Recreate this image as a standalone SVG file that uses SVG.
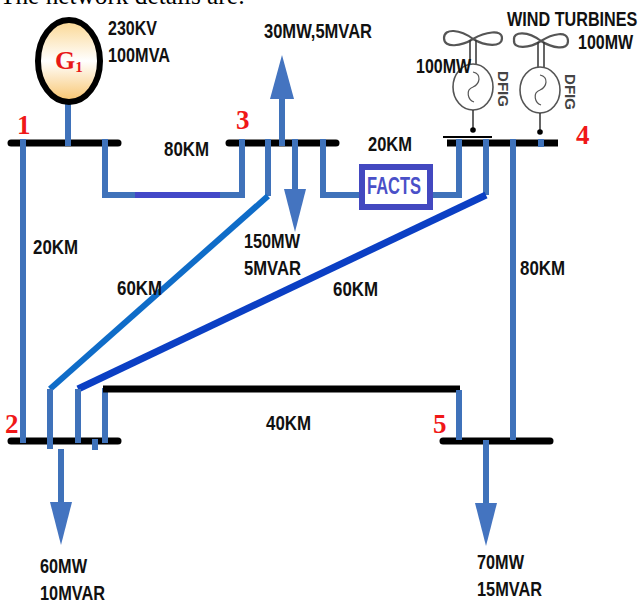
<svg xmlns="http://www.w3.org/2000/svg" width="639" height="603" viewBox="0 0 639 603">
<defs>
<linearGradient id="gen2" x1="0" y1="0" x2="0" y2="1"><stop offset="0" stop-color="#fbd690"/><stop offset="0.5" stop-color="#ffffff"/><stop offset="1" stop-color="#f8c46c"/></linearGradient>
</defs>
<style>
text{font-family:"Liberation Sans",Arial,sans-serif;font-size:20px;font-weight:700;fill:#111}
.r{font-family:"Liberation Serif","Times New Roman",serif;font-size:27px;fill:#f01818}
.b{fill:none;stroke:#3f72ba;stroke-width:6}
.bar{fill:none;stroke:#000;stroke-width:7;stroke-linecap:round}
.arr{fill:#4474c0}
.t{fill:none;stroke:#555;stroke-width:2.2}
.w{fill:none;stroke:#555;stroke-width:1.2}
.l{fill:none;stroke:#333;stroke-width:1.5}
.d{font-size:14px;fill:#444}
</style>
<text x="0" y="4" lengthAdjust="spacingAndGlyphs" style="font-family:'Liberation Serif',serif;font-size:25px;font-weight:400;fill:#000" textLength="245">The network details are:</text>
<g id="bus1"><path class="bar" d="M11 143H118"/><text class="r" x="17" y="134">1</text></g>
<g id="bus2"><path class="bar" d="M11 441H118"/><text class="r" x="5" y="433">2</text></g>
<g id="bus3"><path class="bar" d="M229 143H336"/><text class="r" x="236" y="129">3</text></g>
<g id="bus4"><path d="M447 143H558" fill="none" stroke="#000" stroke-width="7"/><path d="M443 137H492" stroke="#000" stroke-width="2"/><text class="r" x="576" y="144">4</text></g>
<g id="bus5"><path class="bar" d="M443 441H550"/><text class="r" x="433" y="433">5</text></g>
<g id="connectors">
<path class="b" d="M23 139V443"/>
<path class="b" d="M68 100V146"/>
<path class="b" d="M105 139V195H242V139"/>
<path d="M135 195H220" fill="none" stroke="#4348c8" stroke-width="6"/>
<path class="b" d="M268 139V196"/>
<path d="M268 196L50 389" fill="none" stroke="#0f6cc8" stroke-width="6"/>
<path class="b" d="M50 389V449"/>
<path class="b" d="M282 146V90"/>
<path class="b" d="M295 139V195"/>
<path class="b" d="M323 139V195H362"/>
<path class="b" d="M432 195H459V139"/>
<path class="b" d="M486 139V195"/>
<path d="M486 195L78 389" fill="none" stroke="#0b3fc4" stroke-width="7"/>
<path class="b" d="M78 389V443"/>
<path class="b" d="M513 139V440"/>
<path class="b" d="M541 139V147"/>
<path class="b" d="M105 388V443"/>
<path class="b" d="M95 439V450"/>
<path d="M103 389H460" fill="none" stroke="#000" stroke-width="7"/>
<path class="b" d="M459 390V440"/>
<path class="b" d="M61 449V505"/>
<path class="b" d="M486 440V505"/>
<path class="arr" d="M282 55L270 99H294Z"/>
<path class="arr" d="M295 232L284 189H306Z"/>
<path class="arr" d="M61 545L50 502H72Z"/>
<path class="arr" d="M486 546L475 503H497Z"/>
</g>
<g id="generator">
<ellipse cx="69" cy="61" rx="31" ry="41" fill="url(#gen2)" stroke="#000" stroke-width="6"/>
<text x="55" y="69" style="font-family:'Liberation Serif',serif;font-size:26px;fill:#e81818">G<tspan font-size="15" dy="3">1</tspan></text>
</g>
<g id="facts"><rect x="362" y="167" width="68" height="40" fill="#fff" stroke="#4348c0" stroke-width="6"/><text x="367" y="194" lengthAdjust="spacingAndGlyphs" style="font-size:23px;fill:#4a50c8" textLength="54">FACTS</text></g>
<g id="turbine1">
<path class="t" d="M473 39C460 29 444 28 444 38C444 49 462 46 473 39C485 32 502 29 502 38C502 48 485 46 473 39"/>
<path class="l" d="M470 40V65M476 40V65"/>
<ellipse cx="473" cy="87" rx="20" ry="23" fill="#fff" stroke="#555" stroke-width="1.6"/>
<path class="w" d="M473 72C482 74 480 84 473 87C465 90 468 100 474 102"/>
<path class="l" d="M473 110V130"/><circle cx="473" cy="130" r="2.8" fill="#000"/>
<text class="d" transform="translate(498 71) rotate(90)" lengthAdjust="spacingAndGlyphs" textLength="36">DFIG</text>
</g>
<g id="turbine2">
<path class="t" d="M541 41C528 31 513 31 514 40C513 50 530 48 541 41C552 34 568 30 568 41C568 51 552 48 541 41"/>
<path class="l" d="M538 42V68M544 42V68"/>
<ellipse cx="540" cy="90" rx="20" ry="23" fill="#fff" stroke="#555" stroke-width="1.6"/>
<path class="w" d="M540 75C549 77 547 87 540 90C532 93 535 103 541 105"/>
<path class="l" d="M540 113V132"/><circle cx="540" cy="132" r="2.8" fill="#000"/>
<text class="d" transform="translate(565 74) rotate(90)" lengthAdjust="spacingAndGlyphs" textLength="36">DFIG</text>
</g>
<g id="labels">
<text x="108" y="35" lengthAdjust="spacingAndGlyphs" textLength="49">230KV</text>
<text x="108" y="62" lengthAdjust="spacingAndGlyphs" textLength="62">100MVA</text>
<text x="264" y="38" lengthAdjust="spacingAndGlyphs" textLength="108">30MW,5MVAR</text>
<text transform="translate(507 26) scale(.81 1)">WIND TURBINES</text>
<text transform="translate(578 49) scale(.8 1)">100MW</text>
<text x="416" y="73" lengthAdjust="spacingAndGlyphs" textLength="55">100MW</text>
<text x="164" y="156" lengthAdjust="spacingAndGlyphs" textLength="45">80KM</text>
<text x="368" y="151" lengthAdjust="spacingAndGlyphs" textLength="44">20KM</text>
<text x="33" y="254" lengthAdjust="spacingAndGlyphs" textLength="45">20KM</text>
<text x="117" y="295" lengthAdjust="spacingAndGlyphs" textLength="45">60KM</text>
<text x="244" y="248" lengthAdjust="spacingAndGlyphs" textLength="56">150MW</text>
<text x="244" y="275" lengthAdjust="spacingAndGlyphs" textLength="57">5MVAR</text>
<text x="333" y="296" lengthAdjust="spacingAndGlyphs" textLength="45">60KM</text>
<text x="520" y="275" lengthAdjust="spacingAndGlyphs" textLength="45">80KM</text>
<text x="266" y="430" lengthAdjust="spacingAndGlyphs" textLength="45">40KM</text>
<text x="40" y="573" lengthAdjust="spacingAndGlyphs" textLength="47">60MW</text>
<text x="40" y="600" lengthAdjust="spacingAndGlyphs" textLength="65">10MVAR</text>
<text x="477" y="569" lengthAdjust="spacingAndGlyphs" textLength="47">70MW</text>
<text x="477" y="596" lengthAdjust="spacingAndGlyphs" textLength="65">15MVAR</text>
</g>
</svg>
